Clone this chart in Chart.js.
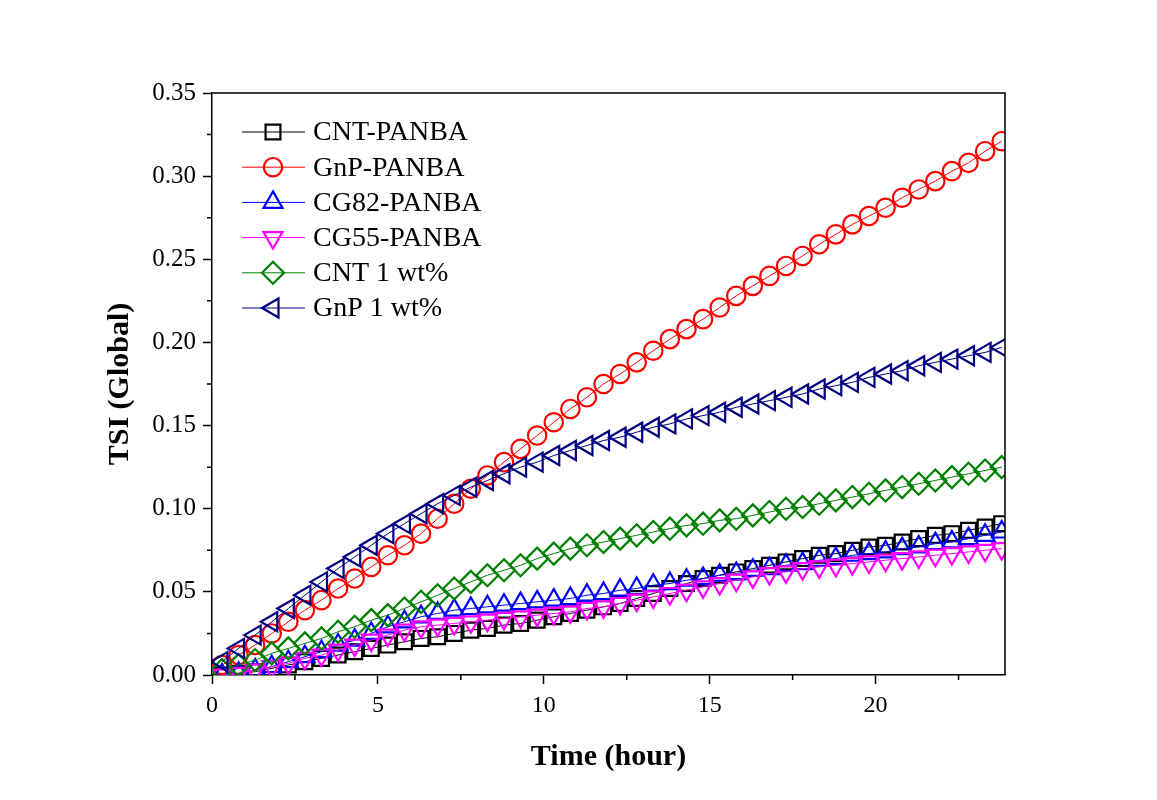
<!DOCTYPE html>
<html>
<head>
<meta charset="utf-8">
<script src="https://cdn.jsdelivr.net/npm/chart.js@4.4.1/dist/chart.umd.min.js"></script>
<style>
  html, body { margin: 0; padding: 0; background: #fff; }
  #wrap { width: 1157px; height: 800px; }
</style>
</head>
<body>
<div id="wrap"><canvas id="grafico"></canvas></div>
<script>
const horas = [0.3, 0.8, 1.3, 1.8, 2.3, 2.8, 3.3, 3.8, 4.3, 4.8, 5.3, 5.8, 6.3, 6.8, 7.3, 7.8,
  8.3, 8.8, 9.3, 9.8, 10.3, 10.8, 11.3, 11.8, 12.3, 12.8, 13.3, 13.8, 14.3, 14.8, 15.3, 15.8,
  16.3, 16.8, 17.3, 17.8, 18.3, 18.8, 19.3, 19.8, 20.3, 20.8, 21.3, 21.8, 22.3, 22.8, 23.3, 23.8];

const cntPanba = [0.000, 0.001, 0.002, 0.004, 0.006, 0.008, 0.010, 0.012, 0.014, 0.016, 0.018, 0.020,
  0.022, 0.023, 0.025, 0.027, 0.028, 0.030, 0.031, 0.033, 0.035, 0.037, 0.039, 0.041,
  0.043, 0.046, 0.049, 0.052, 0.055, 0.058, 0.060, 0.062, 0.064, 0.066, 0.068, 0.070,
  0.072, 0.073, 0.075, 0.077, 0.078, 0.080, 0.082, 0.084, 0.085, 0.087, 0.089, 0.091];

const gnpPanba = [0.006, 0.012, 0.018, 0.025, 0.032, 0.039, 0.045, 0.052, 0.058, 0.065, 0.072, 0.078,
  0.085, 0.094, 0.103, 0.112, 0.120, 0.128, 0.136, 0.144, 0.152, 0.160, 0.167, 0.175,
  0.181, 0.188, 0.195, 0.202, 0.208, 0.214, 0.221, 0.228, 0.234, 0.240, 0.246, 0.252,
  0.259, 0.265, 0.271, 0.276, 0.281, 0.287, 0.292, 0.297, 0.303, 0.308, 0.315, 0.321];

const cg82Panba = [0.000, 0.001, 0.003, 0.005, 0.008, 0.011, 0.014, 0.018, 0.021, 0.025, 0.029, 0.032,
  0.035, 0.037, 0.039, 0.040, 0.041, 0.042, 0.043, 0.044, 0.045, 0.046, 0.048, 0.049,
  0.051, 0.052, 0.054, 0.055, 0.057, 0.058, 0.060, 0.061, 0.063, 0.064, 0.066, 0.067,
  0.069, 0.070, 0.072, 0.073, 0.074, 0.076, 0.077, 0.079, 0.080, 0.082, 0.084, 0.086];

const cg55Panba = [0.000, 0.001, 0.003, 0.005, 0.007, 0.010, 0.012, 0.015, 0.018, 0.021, 0.024, 0.027,
  0.029, 0.030, 0.031, 0.032, 0.033, 0.034, 0.035, 0.036, 0.037, 0.038, 0.040, 0.041,
  0.043, 0.045, 0.047, 0.049, 0.051, 0.053, 0.055, 0.057, 0.059, 0.061, 0.062, 0.064,
  0.065, 0.066, 0.067, 0.068, 0.069, 0.070, 0.071, 0.072, 0.073, 0.074, 0.075, 0.076];

const cnt1 = [0.003, 0.006, 0.009, 0.013, 0.016, 0.019, 0.022, 0.026, 0.029, 0.033, 0.036, 0.040,
  0.044, 0.048, 0.052, 0.056, 0.060, 0.063, 0.066, 0.070, 0.073, 0.076, 0.078, 0.080,
  0.082, 0.084, 0.086, 0.088, 0.090, 0.091, 0.093, 0.094, 0.096, 0.098, 0.100, 0.101,
  0.103, 0.105, 0.107, 0.109, 0.111, 0.113, 0.115, 0.117, 0.119, 0.121, 0.123, 0.125];

const gnp1 = [0.008, 0.016, 0.024, 0.032, 0.040, 0.048, 0.056, 0.064, 0.071, 0.078, 0.085, 0.091,
  0.097, 0.103, 0.108, 0.113, 0.117, 0.121, 0.125, 0.128, 0.132, 0.135, 0.138, 0.141,
  0.143, 0.146, 0.149, 0.151, 0.154, 0.156, 0.158, 0.161, 0.163, 0.165, 0.167, 0.169,
  0.172, 0.174, 0.176, 0.179, 0.181, 0.183, 0.186, 0.188, 0.190, 0.192, 0.194, 0.197];

const yTicks = [0, 0.05, 0.10, 0.15, 0.20, 0.25, 0.30, 0.35];
const xTicks = [0, 5, 10, 15, 20];

const serie = (label, valores, cor, estilo, rot, raio) => ({
  label,
  data: valores.map((v, i) => ({ x: horas[i], y: v })),
  borderColor: cor,
  borderWidth: 1,
  pointStyle: estilo,
  pointRotation: rot,
  pointRadius: raio,
  pointBorderWidth: 2.2,
  pointBorderColor: cor,
  pointBackgroundColor: 'rgba(0,0,0,0)',
  tension: 0
});

const datasets = [
  serie('CNT-PANBA', cntPanba, '#000000', 'rect', 0, 10.5),
  serie('GnP-PANBA', gnpPanba, '#ff0000', 'circle', 0, 9.2),
  serie('CG82-PANBA', cg82Panba, '#0000ff', 'triangle', 0, 11),
  serie('CG55-PANBA', cg55Panba, '#ff00ff', 'triangle', 180, 11),
  serie('CNT 1 wt%', cnt1, '#008000', 'rectRot', 0, 11),
  serie('GnP 1 wt%', gnp1, '#000080', 'triangle', 270, 11)
];
datasets.forEach((d, i) => { d.order = datasets.length - i; });

const fonte = 'Liberation Serif, "Times New Roman", serif';

// minor ticks, frame and the legend of the original
const extras = {
  id: 'extras',
  afterDraw(chart) {
    const ctx = chart.ctx;
    const a = chart.chartArea;
    const sx = chart.scales.x, sy = chart.scales.y;
    ctx.save();
    ctx.strokeStyle = '#000';
    ctx.lineWidth = 1.5;
    ctx.beginPath();
    ctx.moveTo(a.left, a.top);
    ctx.lineTo(a.right, a.top);
    ctx.lineTo(a.right, a.bottom);
    ctx.stroke();

    ctx.beginPath();
    for (let v = 2.5; v < sx.max; v += 5) {
      const px = sx.getPixelForValue(v);
      ctx.moveTo(px, a.bottom);
      ctx.lineTo(px, a.bottom + 5);
    }
    for (let i = 0; i < yTicks.length - 1; i++) {
      const py = sy.getPixelForValue((yTicks[i] + yTicks[i + 1]) / 2);
      ctx.moveTo(a.left, py);
      ctx.lineTo(a.left - 5, py);
    }
    ctx.stroke();

    ctx.font = '28px ' + fonte;
    ctx.textBaseline = 'middle';
    ctx.textAlign = 'left';
    chart.data.datasets.forEach((d, i) => {
      const y = 132 + i * 35.2;
      ctx.strokeStyle = d.borderColor;
      ctx.lineWidth = 1;
      ctx.beginPath();
      ctx.moveTo(242, y);
      ctx.lineTo(305, y);
      ctx.stroke();
      ctx.lineWidth = 2.2;
      ctx.fillStyle = 'rgba(0,0,0,0)';
      Chart.helpers.drawPoint(ctx, {
        pointStyle: d.pointStyle, rotation: d.pointRotation,
        radius: d.pointRadius, borderWidth: 2.2
      }, 273, y);
      ctx.fillStyle = '#000';
      ctx.fillText(d.label, 313, y + 1);
    });
    ctx.restore();
  }
};

new Chart(document.getElementById('grafico'), {
  type: 'line',
  data: { datasets },
  plugins: [extras],
  options: {
    responsive: true,
    maintainAspectRatio: false,
    animation: false,
    layout: { padding: { top: 93, right: 152, bottom: 0, left: 0 } },
    plugins: { legend: { display: false }, tooltip: { enabled: false } },
    scales: {
      x: {
        type: 'linear',
        min: 0,
        max: 23.9,
        afterFit: s => { s.height = 125; },
        afterBuildTicks: s => { s.ticks = xTicks.map(v => ({ value: v })); },
        ticks: { font: { family: fonte, size: 24 }, color: '#000', padding: 7, maxRotation: 0 },
        grid: { drawOnChartArea: false, drawTicks: true, tickLength: 9, tickColor: '#000', tickWidth: 1.5 },
        border: { color: '#000', width: 1.5 },
        title: { display: true, text: 'Time (hour)', color: '#000',
          font: { family: fonte, size: 30, weight: 'bold' }, padding: { top: 0, bottom: 25 } }
      },
      y: {
        min: 0,
        max: 0.35,
        afterFit: s => { s.width = 212; },
        afterBuildTicks: s => { s.ticks = yTicks.map(v => ({ value: v })); },
        ticks: { font: { family: fonte, size: 25 }, color: '#000', padding: 7,
          callback: v => v.toFixed(2) },
        grid: { drawOnChartArea: false, drawTicks: true, tickLength: 9, tickColor: '#000', tickWidth: 1.5 },
        border: { color: '#000', width: 1.5 },
        title: { display: true, text: 'TSI (Global)', color: '#000',
          font: { family: fonte, size: 30, weight: 'bold' }, padding: { top: 102, bottom: 0 } }
      }
    }
  }
});
</script>
</body>
</html>
